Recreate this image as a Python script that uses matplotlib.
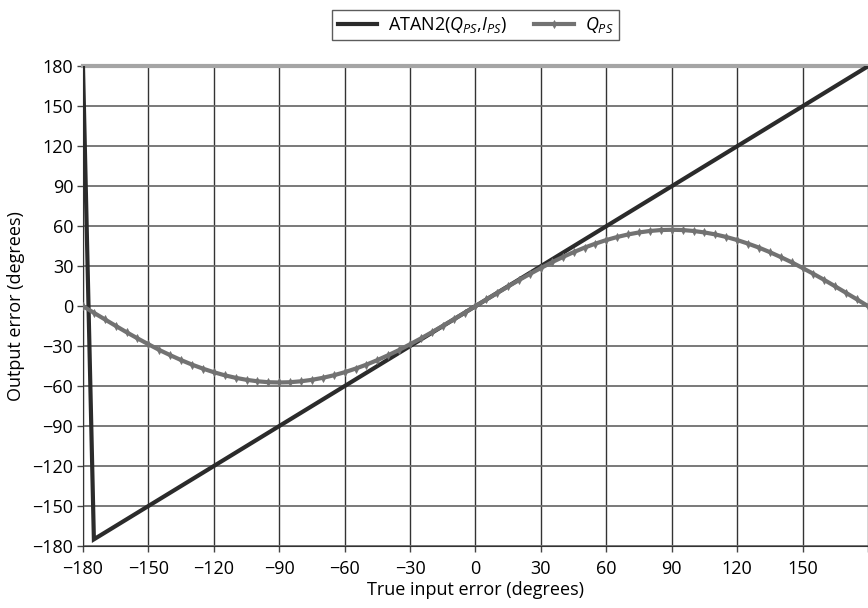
import matplotlib
matplotlib.use("Agg")
import matplotlib.pyplot as plt

plt.rcParams['font.family'] = ['Open Sans', 'DejaVu Sans']
plt.rcParams['mathtext.fontset'] = 'custom'
plt.rcParams['mathtext.rm'] = 'Open Sans'
plt.rcParams['mathtext.it'] = 'Open Sans:italic'

# true input error, 5 degree steps
err_in = [-180, -175, -170, -165, -160, -155, -150, -145, -140, -135, -130, -125,
          -120, -115, -110, -105, -100, -95, -90, -85, -80, -75, -70, -65,
          -60, -55, -50, -45, -40, -35, -30, -25, -20, -15, -10, -5,
          0, 5, 10, 15, 20, 25, 30, 35, 40, 45, 50, 55,
          60, 65, 70, 75, 80, 85, 90, 95, 100, 105, 110, 115,
          120, 125, 130, 135, 140, 145, 150, 155, 160, 165, 170, 175, 180]

# ATAN2 discriminator output
atan2_out = [180, -175, -170, -165, -160, -155, -150, -145, -140, -135, -130, -125,
             -120, -115, -110, -105, -100, -95, -90, -85, -80, -75, -70, -65,
             -60, -55, -50, -45, -40, -35, -30, -25, -20, -15, -10, -5,
             0, 5, 10, 15, 20, 25, 30, 35, 40, 45, 50, 55,
             60, 65, 70, 75, 80, 85, 90, 95, 100, 105, 110, 115,
             120, 125, 130, 135, 140, 145, 150, 155, 160, 165, 170, 175, 180]

# Q_PS discriminator output
qps_out = [0.0, -5.0, -9.9, -14.8, -19.6, -24.2, -28.6, -32.9, -36.8, -40.5, -43.9, -46.9,
           -49.6, -51.9, -53.8, -55.3, -56.4, -57.1, -57.3, -57.1, -56.4, -55.3, -53.8, -51.9,
           -49.6, -46.9, -43.9, -40.5, -36.8, -32.9, -28.6, -24.2, -19.6, -14.8, -9.9, -5.0,
           0.0, 5.0, 9.9, 14.8, 19.6, 24.2, 28.6, 32.9, 36.8, 40.5, 43.9, 46.9,
           49.6, 51.9, 53.8, 55.3, 56.4, 57.1, 57.3, 57.1, 56.4, 55.3, 53.8, 51.9,
           49.6, 46.9, 43.9, 40.5, 36.8, 32.9, 28.6, 24.2, 19.6, 14.8, 9.9, 5.0, 0.0]

ticks = [-180, -150, -120, -90, -60, -30, 0, 30, 60, 90, 120, 150, 180]
# the last x label falls off the edge of the page
xlabels = ['\u2212180', '\u2212150', '\u2212120', '\u221290', '\u221260', '\u221230',
           '0', '30', '60', '90', '120', '150', '']

fig = plt.figure(figsize=(8.68, 6.08), dpi=100)
ax = fig.add_axes([0.0956, 0.102, 0.9044, 0.789])

ax.plot(err_in, atan2_out, color='#2b2b2b', lw=3, label='ATAN2($Q_{PS}$,$I_{PS}$)',
        zorder=3, solid_joinstyle='miter')
ax.plot(err_in, qps_out, color='#727272', lw=3, marker='d', ms=4,
        markeredgewidth=0.5, label='$Q_{PS}$', zorder=4)

ax.set_xlim(-180, 180)
ax.set_ylim(-180, 180)
ax.set_xticks(ticks)
ax.set_xticklabels(xlabels)
ax.set_yticks(ticks)
ax.tick_params(labelsize=13, length=4, width=1, color='#444444')
ax.tick_params(axis='x', pad=6)
ax.tick_params(axis='y', pad=3)

ax.xaxis.grid(True, color='#333333', lw=1)
ax.yaxis.grid(True, color='#6e6e6e', lw=1.3)
ax.set_axisbelow(True)

ax.spines['right'].set_visible(False)
ax.spines['top'].set_color('#a5a5a5')
ax.spines['top'].set_linewidth(3)
ax.spines['left'].set_color('#333333')
ax.spines['bottom'].set_color('#333333')

ax.set_xlabel('True input error (degrees)', fontsize=13, labelpad=2)
ax.set_ylabel('Output error (degrees)', fontsize=13, labelpad=5)

leg = ax.legend(loc='lower center', bbox_to_anchor=(0.5, 1.035), ncol=2, fontsize=13,
                frameon=True, fancybox=False, handlelength=2.2, columnspacing=1.5,
                borderpad=0.3, handletextpad=0.6)
leg.get_frame().set_edgecolor('#333333')
leg.get_frame().set_linewidth(1)

fig.savefig('out.png', dpi=100)
